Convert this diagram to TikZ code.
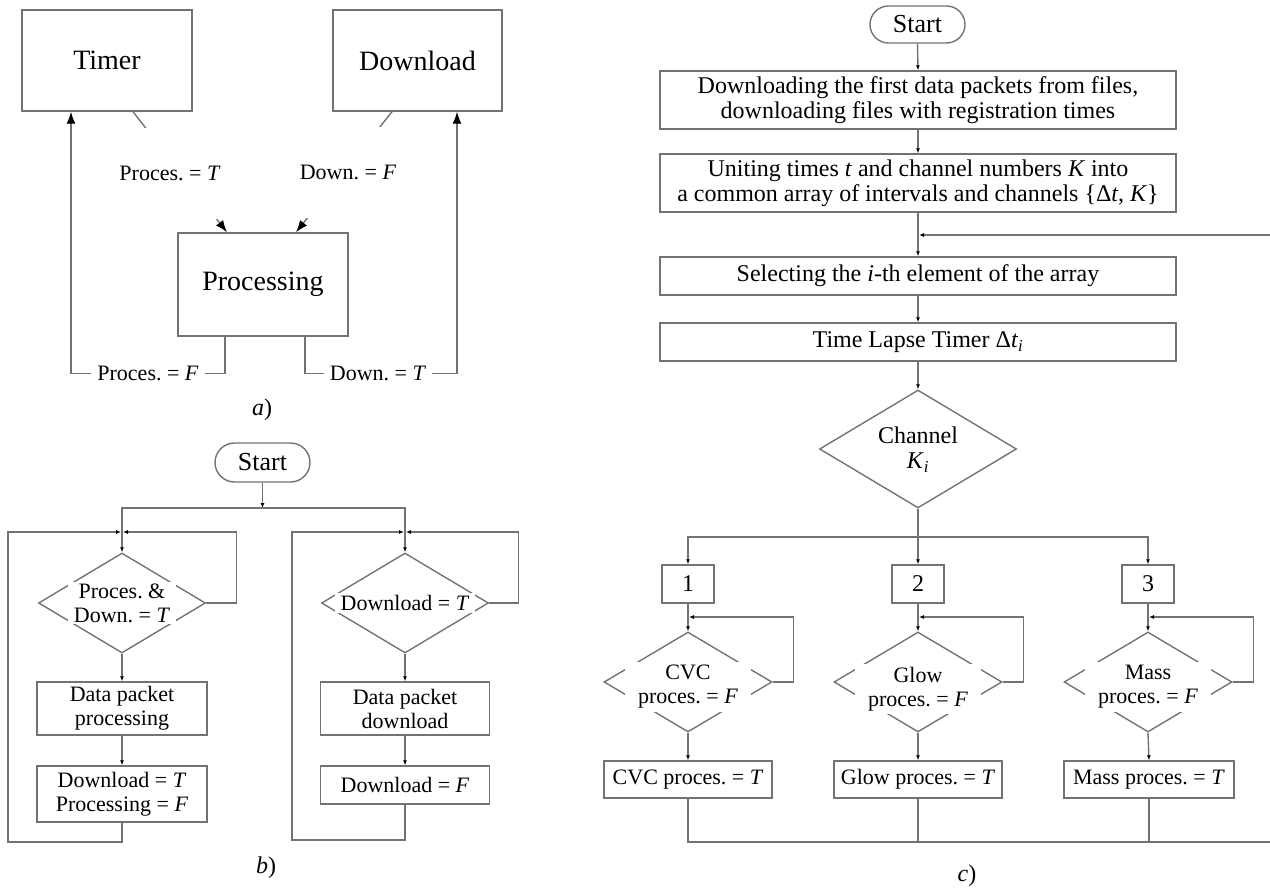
\documentclass[tikz,border=0pt]{standalone}
\usepackage{fontspec}
\setmainfont{Liberation Serif}
\usetikzlibrary{arrows.meta,shapes.geometric,shapes.misc,calc}
\definecolor{lc}{RGB}{115,115,115}
\frenchspacing
\newcommand{\fsA}{\fontsize{28}{32}\selectfont}
\newcommand{\fsL}{\fontsize{22}{26}\selectfont}
\newcommand{\fsB}{\fontsize{22}{24}\selectfont}
\newcommand{\fsC}{\fontsize{24}{25}\selectfont}
\newcommand{\fsD}{\fontsize{22}{24}\selectfont}
\newcommand{\fsS}{\fontsize{26}{30}\selectfont}
\newcommand{\fsP}{\fontsize{24}{28}\selectfont}
\tikzset{
  ln/.style={draw=lc, line width=1.4pt},
  arrA/.style={ln, -{Latex[length=12pt,width=9pt,color=black]}},
  arrB/.style={ln, -{Latex[length=5pt,width=4pt,color=black]}},
  box/.style={draw=lc, line width=1.4pt, rectangle, inner sep=0pt, align=center, text=black},
  term/.style={draw=lc, line width=1.4pt, rounded rectangle, inner sep=0pt, font=\fsS},
  dia/.style={draw=lc, line width=1.4pt, diamond, inner sep=0pt},
  wl/.style={fill=white, inner xsep=6pt, inner ysep=2pt, align=center, text=black},
}
\begin{document}
\begin{tikzpicture}[x=1pt,y=-1pt]
\useasboundingbox (0,0) rectangle (1270,891);
% ---------------- part a ----------------
\node[box, minimum width=170, minimum height=101, font=\fsA] (tim) at (107,60.5) {Timer};
\node[box, minimum width=169, minimum height=101, font=\fsA] (dwn) at (417.5,60.5) {Download};
\node[box, minimum width=170, minimum height=103, font=\fsA] (prc) at (263,284.5) {Processing};
\draw[arrA] ([xshift=26]tim.south) -- ([xshift=-36]prc.north);
\draw[arrA] ([xshift=-25.5]dwn.south) -- ([xshift=33]prc.north);
\node[wl, font=\fsL, minimum width=104, minimum height=91] (la1) at (170,173) {Proces. = \textit{T}};
\node[wl, font=\fsL, minimum width=98, minimum height=91] (la2) at (348,172) {Down. = \textit{F}};
\draw[arrA] ([xshift=-38]prc.south) -- ++(0,37) -- ++(-154,0) -- ([xshift=-36]tim.south);
\draw[arrA] ([xshift=42]prc.south) -- ++(0,37) -- ++(152,0) -- ([xshift=39.5]dwn.south);
\node[wl, font=\fsL] (la3) at (148,373) {Proces. = \textit{F}};
\node[wl, font=\fsL] (la4) at (378,373) {Down. = \textit{T}};
\node[font=\fsP] (capa) at (262,410) {\textit{a})};
% ---------------- part b ----------------
\node[term, minimum width=95, minimum height=39] (stb) at (262.5,462.5) {Start};
\coordinate (sb) at (262.5,508);
\coordinate (jb1) at (122,532);
\coordinate (jb2) at (405,532);
\coordinate (cb1) at (8,842);
\coordinate (cb2) at (292,840);
\node[dia, minimum width=167, minimum height=100] (d1) at (122,603) {};
\node[wl, font=\fsB] (t1) at (122,603) {Proces. \&\\Down. = \textit{T}};
\node[box, minimum width=170, minimum height=53, font=\fsB] (b1a) at (122,708.5) {Data packet\\processing};
\node[box, minimum width=170, minimum height=56, font=\fsB] (b1b) at (122,794) {Download = \textit{T}\\Processing = \textit{F}};
\node[dia, minimum width=167, minimum height=100] (d2) at (405,603) {};
\node[wl, font=\fsB] (t2) at (405,603) {Download = \textit{T}};
\node[box, minimum width=169, minimum height=53, font=\fsB] (b2a) at (405,708.5) {Data packet\\download};
\node[box, minimum width=169, minimum height=38, font=\fsB] (b2b) at (405,785) {Download = \textit{F}};
\draw[arrB] (stb.south) -- (sb);
\draw[arrB] (sb) -| (d1.north);
\draw[arrB] (sb) -| (d2.north);
\draw[arrB, shorten >=1pt] (d1.east) -- ++(30,0) |- (jb1);
\draw[arrB, shorten >=1pt] (d2.east) -- ++(29,0) |- (jb2);
\draw[arrB] (d1.south) -- (b1a.north);
\draw[arrB] (b1a.south) -- (b1b.north);
\draw[arrB] (d2.south) -- (b2a.north);
\draw[arrB] (b2a.south) -- (b2b.north);
\draw[arrB, shorten >=1pt] (b1b.south) |- (cb1) |- (jb1);
\draw[arrB, shorten >=1pt] (b2b.south) |- (cb2) |- (jb2);
\node[font=\fsP] (capb) at (266,868) {\textit{b})};
% ---------------- part c ----------------
\node[term, minimum width=95, minimum height=37] (stc) at (917.5,24.5) {Start};
\node[box, minimum width=516, minimum height=58, font=\fsC] (c1) at (918,100) {Downloading the first data packets from files,\\downloading files with registration times};
\node[box, minimum width=516, minimum height=58, font=\fsC] (c2) at (918,183) {Uniting times \textit{t} and channel numbers \textit{K} into\\a common array of intervals and channels \{Δ\textit{t}, \textit{K}\}};
\coordinate (jc) at (918,235);
\node[box, minimum width=516, minimum height=38, font=\fsC] (c3) at (918,276) {Selecting the \textit{i}-th element of the array};
\node[box, minimum width=516, minimum height=38, font=\fsC] (c4) at (918,342) {Time Lapse Timer Δ\textit{t}\textsubscript{\textit{i}}};
\node[dia, minimum width=197, minimum height=118] (cd) at (918,449) {};
\node[font=\fsC, align=center] (cdt) at (918,450) {Channel\\\textit{K}\textsubscript{\textit{i}}};
\coordinate (sc) at (918,537);
\node[box, minimum width=52, minimum height=38, font=\fsC] (n1) at (688,584) {1};
\node[box, minimum width=52, minimum height=38, font=\fsC] (n2) at (918,584) {2};
\node[box, minimum width=52, minimum height=38, font=\fsC] (n3) at (1148,584) {3};
\coordinate (j1) at (688,617);
\coordinate (j2) at (918,617);
\coordinate (j3) at (1148,617);
\node[dia, minimum width=168, minimum height=100] (e1) at (688,682) {};
\node[dia, minimum width=168, minimum height=100] (e2) at (918,682) {};
\node[dia, minimum width=168, minimum height=100] (e3) at (1148,682) {};
\node[wl, font=\fsD, inner xsep=13pt, inner ysep=3pt] (et1) at (688,687) {CVC\\proces. = \textit{F}};
\node[wl, font=\fsD, inner xsep=13pt, inner ysep=3pt] (et2) at (918,689) {Glow\\proces. = \textit{F}};
\node[wl, font=\fsD, inner xsep=13pt, inner ysep=3pt] (et3) at (1148,687) {Mass\\proces. = \textit{F}};
\node[box, minimum width=168, minimum height=37, font=\fsD] (f1) at (688,779.5) {CVC proces. = \textit{T}};
\node[box, minimum width=168, minimum height=37, font=\fsD] (f2) at (918,779.5) {Glow proces. = \textit{T}};
\node[box, minimum width=170, minimum height=37, font=\fsD] (f3) at (1149,779.5) {Mass proces. = \textit{T}};
\coordinate (bc) at (1271,842);
\draw[arrB] (stc.south) -- (c1.north);
\draw[arrB] (c1.south) -- (c2.north);
\draw[arrB] (c2.south) -- (c3.north);
\draw[arrB] (c3.south) -- (c4.north);
\draw[arrB] (c4.south) -- (cd.north);
\draw[arrB] (cd.south) -- (n2.north);
\draw[arrB] (sc) -| (n1.north);
\draw[arrB] (sc) -| (n3.north);
\foreach \i in {1,2,3}{
  \draw[arrB] (n\i.south) -- (e\i.north);
  \draw[arrB, shorten >=1pt] (e\i.east) -- ++(21,0) |- (j\i);
  \draw[arrB] (e\i.south) -- (f\i.north);
}
\draw[arrB, shorten >=1pt] (f1.south) |- (bc) |- (jc);
\draw[ln] (f2.south) -- (f2.south |- bc);
\draw[ln] (f3.south) -- (f3.south |- bc);
\node[font=\fsP] (capc) at (967,876) {\textit{c})};
\end{tikzpicture}
\end{document}
